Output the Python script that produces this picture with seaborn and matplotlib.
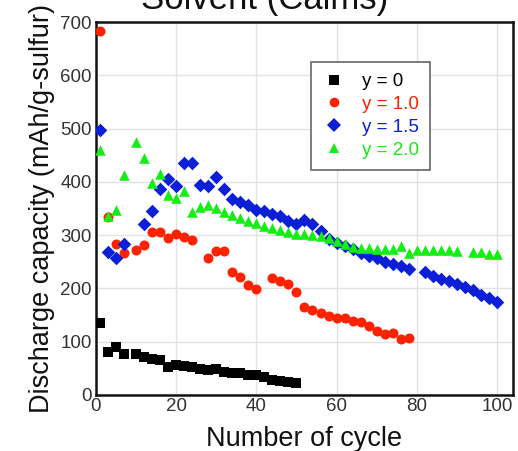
import matplotlib
matplotlib.use("Agg")
import matplotlib.pyplot as plt
from matplotlib.lines import Line2D
import seaborn as sns
import pandas as pd

# ---- data ----
cycles_y0 = [1, 3, 5, 7, 10, 12, 14, 16, 18, 20, 22, 24, 26, 28, 30, 32, 34, 36, 38, 40, 42, 44, 46, 48, 50]
cap_y0 = [135, 80, 90, 77, 77, 72, 68, 65, 52, 56, 55, 53, 49, 47, 49, 43, 41, 41, 38, 38, 33, 29, 27, 24, 22]

cycles_y10 = [1, 3, 5, 7, 10, 12, 14, 16, 18, 20, 22, 24, 28, 30, 32, 34, 36, 38, 40, 44, 46, 48, 50,
              52, 54, 56, 58, 60, 62, 64, 66, 68, 70, 72, 74, 76, 78]
cap_y10 = [683, 334, 283, 266, 273, 281, 306, 306, 294, 302, 297, 291, 257, 270, 270, 231, 221, 207, 198,
           219, 214, 209, 193, 166, 160, 154, 149, 144, 144, 139, 137, 130, 121, 115, 117, 106, 107]

cycles_y15 = [1, 3, 5, 7, 12, 14, 16, 18, 20, 22, 24, 26, 28, 30, 32, 34, 36, 38, 40, 42, 44, 46, 48, 50,
              52, 54, 56, 58, 60, 62, 64, 66, 68, 70, 72, 74, 76, 78, 82, 84, 86, 88, 90, 92, 94, 96, 98, 100]
cap_y15 = [497, 268, 257, 283, 320, 346, 386, 405, 393, 435, 435, 395, 393, 410, 386, 368, 363, 357, 348,
           346, 340, 335, 327, 321, 329, 320, 308, 293, 286, 280, 274, 266, 261, 257, 250, 246, 242, 237,
           231, 224, 218, 214, 208, 203, 197, 188, 182, 175]

cycles_y20 = [1, 3, 5, 7, 10, 12, 14, 16, 18, 20, 22, 24, 26, 28, 30, 32, 34, 36, 38, 40, 42, 44, 46, 48,
              50, 52, 54, 56, 58, 60, 62, 64, 66, 68, 70, 72, 74, 76, 78, 80, 82, 84, 86, 88, 90, 94, 96, 98, 100]
cap_y20 = [460, 335, 347, 413, 474, 444, 397, 414, 376, 369, 383, 344, 352, 356, 350, 343, 337, 332, 327,
           323, 318, 314, 310, 306, 303, 302, 300, 299, 295, 289, 283, 278, 276, 276, 274, 274, 274, 280,
           267, 273, 273, 273, 273, 273, 271, 269, 269, 264, 265]

series_labels = ["y = 0", "y = 1.0", "y = 1.5", "y = 2.0"]
x_ticks = [0, 20, 40, 60, 80, 100]
y_ticks = [0, 100, 200, 300, 400, 500, 600, 700]

# ---- styling ----
colors = ["#000000", "#ff2200", "#0a1fd6", "#14ee14"]
markers = ["s", "o", "D", "^"]
sizes = [48, 52, 48, 58]

df = pd.concat([
    pd.DataFrame({"cycle": cycles_y0, "cap": cap_y0, "series": series_labels[0]}),
    pd.DataFrame({"cycle": cycles_y10, "cap": cap_y10, "series": series_labels[1]}),
    pd.DataFrame({"cycle": cycles_y15, "cap": cap_y15, "series": series_labels[2]}),
    pd.DataFrame({"cycle": cycles_y20, "cap": cap_y20, "series": series_labels[3]}),
], ignore_index=True)

sns.set_style("whitegrid")
plt.rcParams["font.family"] = ["Liberation Sans", "DejaVu Sans"]

fig = plt.figure(figsize=(5.18, 4.51), dpi=100)
ax = fig.add_axes([0.1853, 0.1242, 0.805, 0.827])

for lab, c, m, s in zip(series_labels, colors, markers, sizes):
    sub = df[df["series"] == lab]
    sns.scatterplot(data=sub, x="cycle", y="cap", color=c, marker=m, s=s,
                    linewidth=0, ax=ax, legend=False, zorder=3)

ax.set_xlim(0, 104)
ax.set_ylim(0, 700)
ax.set_xticks(x_ticks)
ax.set_yticks(y_ticks)
ax.grid(True, color="#e2e2e2", linewidth=1.0)
ax.set_axisbelow(True)
for sp in ax.spines.values():
    sp.set_color("#111111")
    sp.set_linewidth(1.8)
    sp.set_visible(True)
ax.tick_params(axis="both", length=0, labelsize=13.5, labelcolor="#333333")
ax.tick_params(axis="y", pad=3)
ax.tick_params(axis="x", pad=2)

ax.set_xlabel("Number of cycle", fontsize=19.5, color="#111111", labelpad=8)
ax.set_ylabel("Discharge capacity (mAh/g-sulfur)", fontsize=19.5, color="#111111", labelpad=4)

handles = [Line2D([0], [0], linestyle="none", marker=m, color=c, markersize=7, markeredgewidth=0)
           for c, m in zip(colors, markers)]
leg = ax.legend(handles, series_labels, loc="upper left", bbox_to_anchor=(0.516, 0.893),
                fontsize=13.5, labelcolor=colors, frameon=True, fancybox=False,
                edgecolor="#666666", framealpha=1, handlelength=1.2, handletextpad=0.9,
                borderpad=0.6, labelspacing=0.3, borderaxespad=0)
leg.get_frame().set_linewidth(1.2)

fig.text(0.51, 0.981, "Solvent (Calms)", fontsize=25, ha="center", va="baseline", color="#111111")

fig.savefig("out.png", dpi=100)
